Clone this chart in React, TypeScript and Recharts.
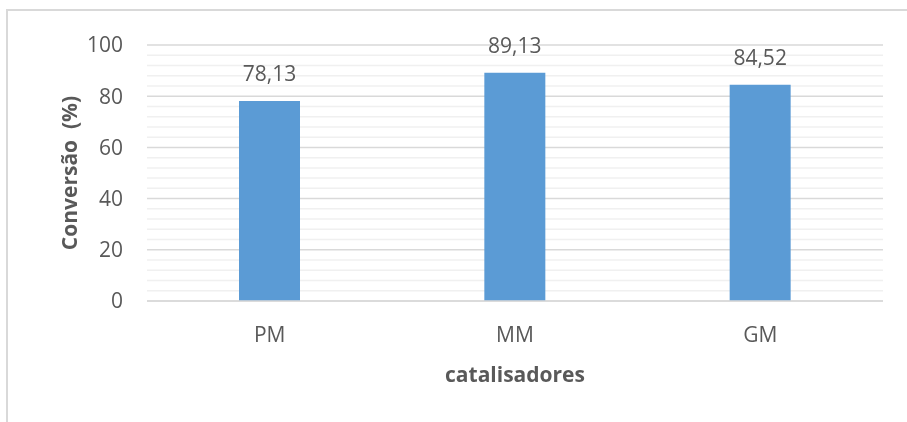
import { Bar, BarChart, CartesianGrid, LabelList, XAxis, YAxis } from "recharts";

const catalysts = ["PM", "MM", "GM"];
const conversion = [78.13, 89.13, 84.52];
const yTicks = [0, 20, 40, 60, 80, 100];
const minorLines = [4, 8, 12, 16, 24, 28, 32, 36, 44, 48, 52, 56, 64, 68, 72, 76, 84, 88, 92, 96];

const data = catalysts.map((name, i) => ({ name, value: conversion[i] }));

const FONT = "'Open Sans', sans-serif";
const TEXT = "#595959";
const MAJOR = "#d9d9d9";
const MINOR = "#f0f0f0";

const tickStyle = { fill: TEXT, fontSize: 21, fontFamily: FONT };

const fmt = (v: number) => v.toFixed(2).replace(".", ",");

export default function App() {
  return (
    <>
      {/* frame around the chart area (only top/left edges fall inside the page) */}
      <div
        style={{
          position: "fixed",
          left: 6,
          top: 9,
          width: 901,
          height: 413,
          borderTop: `2px solid ${MAJOR}`,
          borderLeft: `2px solid ${MAJOR}`,
        }}
      />
      <div style={{ position: "relative" }}>
        <BarChart
          width={890}
          height={406}
          data={data}
          margin={{ top: 37, right: 15, bottom: 0, left: 0 }}
          style={{ fontFamily: FONT }}
        >
          {/* interval={0} on the y axis keeps every minor value */}
          <CartesianGrid
            vertical={false}
            horizontalValues={minorLines}
            stroke={MINOR}
            strokeWidth={1.5}
          />
          <CartesianGrid vertical={false} horizontalValues={yTicks} stroke={MAJOR} strokeWidth={1.5} />
          <XAxis
            dataKey="name"
            height={113}
            tick={tickStyle}
            tickLine={false}
            tickSize={0}
            tickMargin={26}
            axisLine={{ stroke: MAJOR, strokeWidth: 1.5 }}
            label={{
              content: ({ viewBox }: any) => (
                <text
                  x={viewBox.x + viewBox.width / 2}
                  y={viewBox.y + 81}
                  textAnchor="middle"
                  fill={TEXT}
                  fontSize={21}
                  fontWeight="bold"
                  fontFamily={FONT}
                >
                  catalisadores
                </text>
              ),
            }}
          />
          <YAxis
            width={139}
            domain={[0, 100]}
            ticks={yTicks}
            interval={0}
            tick={tickStyle}
            tickLine={false}
            tickSize={0}
            tickMargin={24}
            axisLine={false}
            label={{
              content: ({ viewBox }: any) => (
                <text
                  transform={`translate(${viewBox.x + 69}, ${viewBox.y + viewBox.height / 2}) rotate(-90)`}
                  textAnchor="middle"
                  fill={TEXT}
                  fontSize={21}
                  fontWeight="bold"
                  fontFamily={FONT}
                  style={{ whiteSpace: "pre" }}
                >
                  {"Conversão  (%)"}
                </text>
              ),
            }}
          />
          <Bar dataKey="value" fill="#5b9bd5" barSize={61} isAnimationActive={false}>
            <LabelList
              dataKey="value"
              position="top"
              offset={20}
              formatter={(v: any) => fmt(Number(v))}
              style={{ fill: TEXT, fontSize: 21, fontFamily: FONT }}
            />
          </Bar>
        </BarChart>
      </div>
    </>
  );
}
